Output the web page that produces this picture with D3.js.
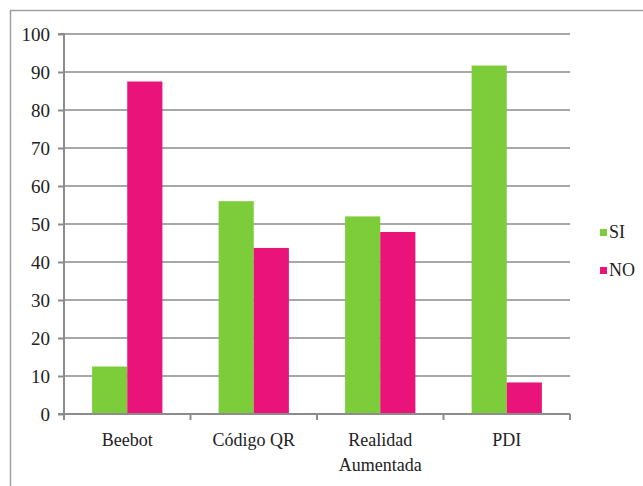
<!DOCTYPE html>
<html>
<head>
<meta charset="utf-8">
<script src="https://cdn.jsdelivr.net/npm/d3@7"></script>
<style>
  body { margin: 0; background: #fff; }
  svg { display: block; }
  svg text { font-family: "Liberation Serif", "Times New Roman", Times, "DejaVu Serif", serif; }
</style>
</head>
<body>
<svg width="643" height="486"></svg>
<script>
"use strict";

// data
var categories = ["Beebot", "Código QR", "Realidad Aumentada", "PDI"];
var series = ["SI", "NO"];
var siValues = [12.5, 56, 52, 91.7];
var noValues = [87.5, 43.7, 47.9, 8.3];
var yTicks = [0, 10, 20, 30, 40, 50, 60, 70, 80, 90, 100];
var colors = ["#7dcd3a", "#e9137a"];

var svg = d3.select("svg");

// outer frame (top and left edges show)
svg.append("path")
    .attr("d", "M10.5,486 L10.5,10.5 L643,10.5")
    .attr("fill", "none")
    .attr("stroke", "#a0a0a0")
    .attr("stroke-width", 1.5);

var plot = { left: 64, right: 570, top: 34, bottom: 414 };

var x = d3.scaleBand()
    .domain(categories)
    .range([plot.left, plot.right])
    .paddingInner(0)
    .paddingOuter(0);

var y = d3.scaleLinear()
    .domain([0, 100])
    .range([plot.bottom, plot.top]);

var inner = d3.scaleBand()
    .domain(series)
    .range([0, x.bandwidth()])
    .paddingInner(0)
    .paddingOuter(0.8);

// gridlines
svg.append("g")
    .selectAll("line")
    .data(yTicks.filter(d => d > 0))
    .enter()
    .append("line")
    .attr("x1", plot.left)
    .attr("x2", plot.right)
    .attr("y1", d => y(d))
    .attr("y2", d => y(d))
    .attr("stroke", "#a8a8a8")
    .attr("stroke-width", 2);

// bars
var rows = categories.map((c, i) => ({ cat: c, values: [siValues[i], noValues[i]] }));

var groups = svg.append("g")
    .selectAll("g")
    .data(rows)
    .enter()
    .append("g")
    .attr("transform", d => "translate(" + x(d.cat) + ",0)");

groups.selectAll("rect")
    .data(d => d.values.map((v, j) => ({ s: series[j], v: v, j: j })))
    .enter()
    .append("rect")
    .attr("x", d => inner(d.s))
    .attr("width", inner.bandwidth())
    .attr("y", d => y(d.v))
    .attr("height", d => y(0) - y(d.v))
    .attr("fill", d => colors[d.j]);

// y axis
var yAxis = svg.append("g")
    .attr("transform", "translate(" + plot.left + ",0)")
    .call(d3.axisLeft(y).tickValues(yTicks).tickSize(6).tickPadding(8));
yAxis.attr("font-family", null);
yAxis.select(".domain").attr("stroke", "#8c8c8c").attr("stroke-width", 2)
    .attr("d", "M-6," + plot.top + "H0V" + plot.bottom + "H-6");
yAxis.selectAll(".tick line").attr("stroke", "#8c8c8c").attr("stroke-width", 2);
yAxis.selectAll(".tick text")
    .attr("font-size", 19)
    .attr("fill", "#222");

// x axis
var xAxis = svg.append("g")
    .attr("transform", "translate(0," + plot.bottom + ")");
xAxis.append("line")
    .attr("x1", plot.left - 6)
    .attr("x2", plot.right)
    .attr("stroke", "#8c8c8c")
    .attr("stroke-width", 2);
xAxis.selectAll(".xt")
    .data(categories.map(c => x(c) + x.bandwidth()).concat([plot.left]))
    .enter()
    .append("line")
    .attr("x1", d => d)
    .attr("x2", d => d)
    .attr("y1", 0)
    .attr("y2", 6)
    .attr("stroke", "#8c8c8c")
    .attr("stroke-width", 2);

var labels = xAxis.selectAll(".xl")
    .data(categories)
    .enter()
    .append("text")
    .attr("x", d => x(d) + x.bandwidth() / 2)
    .attr("y", 32)
    .attr("text-anchor", "middle")
    .attr("font-size", 18)
    .attr("fill", "#222");

labels.each(function(d) {
    var words = d == "Realidad Aumentada" ? ["Realidad", "Aumentada"] : [d];
    var t = d3.select(this);
    words.forEach((w, i) => {
        t.append("tspan")
            .attr("x", x(d) + x.bandwidth() / 2)
            .attr("dy", i == 0 ? 0 : 25)
            .text(w);
    });
});

// legend
var legend = svg.append("g")
    .selectAll("g")
    .data(series)
    .enter()
    .append("g")
    .attr("transform", (d, i) => "translate(600," + (232 + i * 38) + ")");
legend.append("rect")
    .attr("x", 0)
    .attr("y", -3)
    .attr("width", 7)
    .attr("height", 7)
    .attr("fill", (d, i) => colors[i]);
legend.append("text")
    .attr("x", 9)
    .attr("y", 6)
    .attr("font-size", 18)
    .attr("fill", "#222")
    .text(d => d);
</script>
</body>
</html>
